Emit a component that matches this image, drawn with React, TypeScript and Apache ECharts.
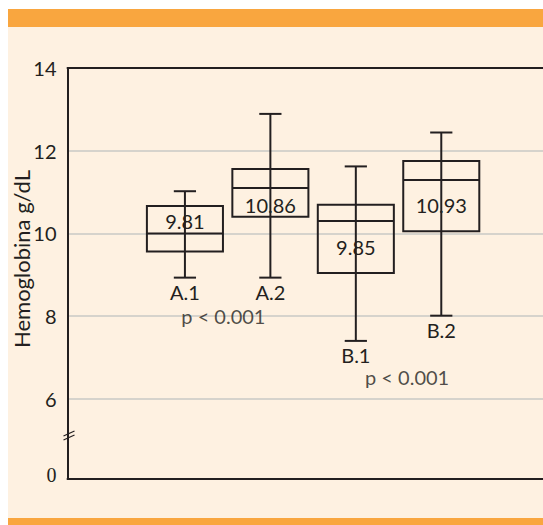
import React, { useEffect, useRef } from "react";
import * as echarts from "echarts";

// ---- data ----
const categories = ["A.1", "A.2", "B.1", "B.2"];
const whiskerLow = [8.93, 8.93, 7.4, 8.01];
const quartile1 = [9.56, 10.4, 9.04, 10.05];
const medians = [10.0, 11.1, 10.3, 11.29];
const quartile3 = [10.66, 11.56, 10.69, 11.75];
const whiskerHigh = [11.02, 12.89, 11.62, 12.44];
const meanValues = ["9.81", "10.86", "9.85", "10.93"];
const yTicks = [6, 8, 10, 12, 14];
const pTexts = ["p < 0.001", "p < 0.001"];
// annotation anchors in data coordinates (x = category position, y = g/dL)
const pAnchorX = [0.45, 2.6];
const pAnchorY = [8.0, 6.53];

// ---- style constants ----
const INK = "#231f20";
const ORANGE = "#F9A63F";
const CREAM = "#FEF1E1";
const FONT = "Lato";
const FW = 400;
const FS = 20;
const MEAN_LABEL_DY = [-12, 17, 26, 25]; // pixel offset of mean label from median line
const AXIS_MIN = 4.06; // compressed (broken) axis: bottom drawn as 0
const BREAK_AT = 5.1;

export default function App() {
  const ref = useRef<HTMLDivElement>(null);
  useEffect(() => {
    if (!ref.current) return;
    const chart = echarts.init(ref.current, null, { renderer: "svg" });
    const W = 535;
    const boxData = categories.map((_, i) => [
      i,
      whiskerLow[i],
      quartile1[i],
      medians[i],
      quartile3[i],
      whiskerHigh[i],
    ]);
    const option: any = {
      animation: false,
      backgroundColor: CREAM,
      textStyle: { fontFamily: FONT, fontWeight: FW },
      grid: [
        { left: 59.5, top: 59, bottom: 46, right: -40 },
        { left: 134.2, top: 59, bottom: 46, width: 341.8 },
      ],
      xAxis: [
        {
          gridIndex: 0,
          type: "value",
          position: "bottom",
          axisLine: { show: true, lineStyle: { color: INK, width: 2 } },
          axisTick: { show: false },
          axisLabel: { show: false },
          splitLine: { show: false },
        },
        {
          gridIndex: 0,
          type: "value",
          position: "top",
          axisLine: { show: true, lineStyle: { color: INK, width: 2 } },
          axisTick: { show: false },
          axisLabel: { show: false },
          splitLine: { show: false },
        },
        {
          gridIndex: 1,
          type: "category",
          data: categories,
          show: false,
          boundaryGap: true,
        },
        {
          gridIndex: 1,
          type: "value",
          min: -0.5,
          max: 3.5,
          show: false,
        },
      ],
      yAxis: [
        {
          gridIndex: 0,
          type: "value",
          min: AXIS_MIN,
          max: 14,
          axisLine: { show: true, lineStyle: { color: INK, width: 2 } },
          axisTick: { show: false },
          axisLabel: {
            show: true,
            showMinLabel: true,
            showMaxLabel: true,
            margin: 11,
            color: INK,
            fontFamily: FONT,
            fontWeight: FW,
            fontSize: FS,
            formatter: (v: number) => {
              if (Math.abs(v - AXIS_MIN) < 1e-6) return "{z|0}";
              return yTicks.indexOf(v) >= 0 ? String(v) : "";
            },
            rich: {
              z: {
                fontFamily: "Liberation Serif",
                fontWeight: "normal",
                fontSize: FS,
                color: INK,
                padding: [0, 0, 8, 0],
              },
            },
          },
          splitLine: {
            show: true,
            showMinLine: false,
            showMaxLine: false,
            lineStyle: { color: "#c9c8c5", width: 1.5 },
          },
        },
        {
          gridIndex: 1,
          type: "value",
          min: AXIS_MIN,
          max: 14,
          show: false,
        },
      ],
      series: [
        {
          type: "custom",
          xAxisIndex: 2,
          yAxisIndex: 1,
          data: boxData,
          z: 5,
          renderItem: (params: any, api: any) => {
            const i = api.value(0);
            const lo = api.coord([i, api.value(1)]);
            const q1 = api.coord([i, api.value(2)]);
            const md = api.coord([i, api.value(3)]);
            const q3 = api.coord([i, api.value(4)]);
            const hi = api.coord([i, api.value(5)]);
            const band = api.size([1, 0])[0];
            const bw = band * 0.89;
            const cw = band * 0.26;
            const cx = md[0];
            const ls = { stroke: INK, lineWidth: 2 };
            return {
              type: "group",
              children: [
                { type: "line", shape: { x1: cx, y1: hi[1], x2: cx, y2: lo[1] }, style: ls },
                { type: "line", shape: { x1: cx - cw / 2, y1: hi[1], x2: cx + cw / 2, y2: hi[1] }, style: ls },
                { type: "line", shape: { x1: cx - cw / 2, y1: lo[1], x2: cx + cw / 2, y2: lo[1] }, style: ls },
                {
                  type: "rect",
                  shape: { x: cx - bw / 2, y: q3[1], width: bw, height: q1[1] - q3[1] },
                  style: { fill: "none", stroke: INK, lineWidth: 2 },
                },
                { type: "line", shape: { x1: cx - bw / 2, y1: md[1], x2: cx + bw / 2, y2: md[1] }, style: ls },
                {
                  type: "text",
                  x: cx,
                  y: md[1] + MEAN_LABEL_DY[params.dataIndex],
                  style: {
                    text: meanValues[params.dataIndex],
                    fill: INK,
                    font: `${FS}px ${FONT}`,
                    align: "center",
                    verticalAlign: "middle",
                  },
                },
                {
                  type: "text",
                  x: cx,
                  y: lo[1] + 4,
                  style: {
                    text: categories[params.dataIndex],
                    fill: INK,
                    font: `${FS}px ${FONT}`,
                    align: "center",
                    verticalAlign: "top",
                  },
                },
              ],
            };
          },
        },
        {
          type: "scatter",
          xAxisIndex: 3,
          yAxisIndex: 1,
          symbolSize: 0,
          data: pTexts.map((t, i) => ({ name: t, value: [pAnchorX[i], pAnchorY[i]] })),
          label: {
            show: true,
            position: "inside",
            formatter: (p: any) => p.name,
            color: INK,
            fontFamily: FONT,
            fontWeight: FW,
            fontSize: FS,
          },
          z: 6,
        },
      ],
      graphic: [
        { id: "topBand", type: "rect", shape: { x: 0, y: 0, width: W, height: 18 }, style: { fill: ORANGE }, silent: true },
        { id: "botBand", type: "rect", shape: { x: 0, y: 509, width: W, height: 12 }, style: { fill: ORANGE }, silent: true },
        {
          id: "yname",
          type: "text",
          x: 13,
          y: 250,
          rotation: Math.PI / 2,
          style: {
            text: "Hemoglobina g/dL",
            fill: INK,
            font: `22px ${FONT}`,
            align: "center",
            verticalAlign: "middle",
          },
        },
      ],
    };
    chart.setOption(option);
    const by = chart.convertToPixel({ yAxisIndex: 0 }, BREAK_AT) as number;
    const bx = chart.convertToPixel({ xAxisIndex: 0 }, 0) as number;
    chart.setOption({
      graphic: [
        { id: "brk1", type: "line", shape: { x1: bx - 4, y1: by, x2: bx + 7, y2: by - 5 }, style: { stroke: INK, lineWidth: 1.2 } },
        { id: "brk2", type: "line", shape: { x1: bx - 4, y1: by + 4, x2: bx + 7, y2: by - 1 }, style: { stroke: INK, lineWidth: 1.2 } },
      ],
    });
    return () => chart.dispose();
  }, []);
  return (
    <div
      ref={ref}
      style={{ position: "fixed", left: 8, top: 9, width: 535, height: 516 }}
    />
  );
}
